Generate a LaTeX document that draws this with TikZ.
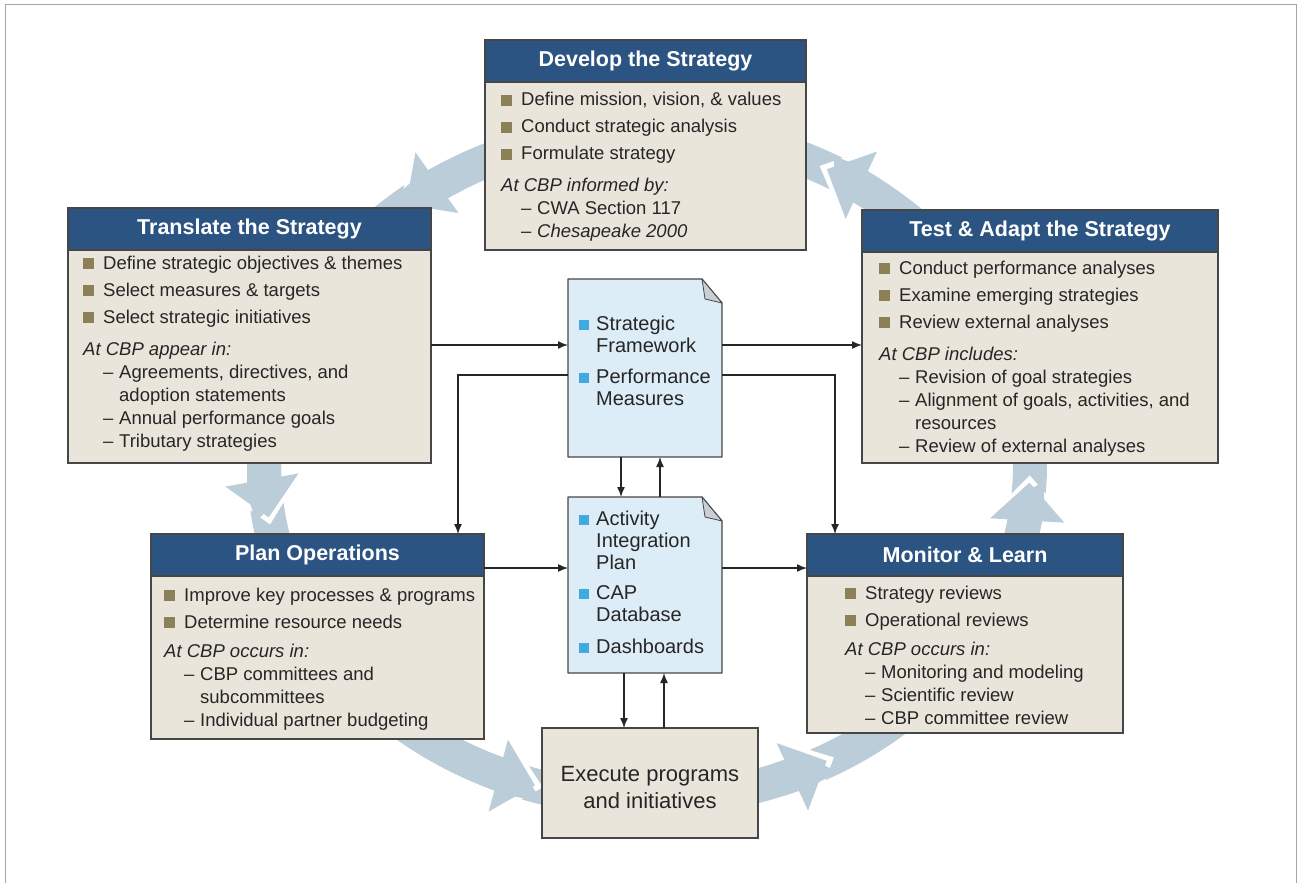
\documentclass[tikz,border=0pt]{standalone}
\usepackage{fontspec}
\setmainfont{Liberation Sans}
\usetikzlibrary{positioning,arrows.meta}

\definecolor{hdrblue}{RGB}{44,84,130}
\definecolor{panelbeige}{RGB}{233,229,219}
\definecolor{edgegray}{RGB}{70,70,70}
\definecolor{olivesq}{RGB}{140,128,88}
\definecolor{docblue}{RGB}{221,237,247}
\definecolor{foldgray}{RGB}{200,208,214}
\definecolor{docsq}{RGB}{64,170,222}
\definecolor{ringblue}{RGB}{186,205,217}
\definecolor{ink}{RGB}{38,38,38}

\newcommand\sqb{\textcolor{olivesq}{\rule{11pt}{11pt}}\hspace{9pt}}
\newcommand\dsh{\hspace{20pt}\makebox[16pt][l]{--}}
\newcommand\dcont{\hspace{36pt}}
\newcommand\cb{\textcolor{docsq}{\rule{10pt}{10pt}}\hspace{7pt}}
\newcommand\ringtip[2]{%
  \draw[white, line width=0.2pt, -{Triangle[length=44pt,width=82pt]}]
    (647,465) ++(#1:383 and 335) arc[start angle=#1, end angle=#2-1.2, x radius=383, y radius=335];
  \draw[ringblue, line width=34pt, -{Triangle[length=38pt,width=72pt]}]
    (647,465) ++(#1:383 and 335) arc[start angle=#1, end angle=#2, x radius=383, y radius=335];}
\newcommand\docpage[1]{%
  \filldraw[fill=docblue, draw=edgegray, line width=1.3pt, line join=round]
    (#1.north west) -- ([xshift=-20pt]#1.north east) -- ([yshift=-24pt]#1.north east)
    -- (#1.south east) -- (#1.south west) -- cycle;
  \filldraw[fill=foldgray, draw=edgegray, line width=0.8pt, line join=round]
    ([xshift=-20pt]#1.north east) -- ([xshift=-17pt,yshift=-20pt]#1.north east)
    -- ([yshift=-24pt]#1.north east) -- cycle;}

\tikzset{
  hdr/.style={rectangle, fill=hdrblue, draw=edgegray, line width=1.3pt, text=white,
    font=\bfseries\fontsize{21.5}{24}\selectfont, minimum height=42pt,
    inner sep=0pt, outer sep=0pt, anchor=north west},
  panel/.style={rectangle, fill=panelbeige, draw=edgegray, line width=1.3pt,
    inner sep=0pt, outer sep=0pt},
  list/.style={inner sep=0pt, anchor=base west, text=ink,
    font=\fontsize{18.5}{23}\selectfont},
  doclist/.style={inner sep=0pt, anchor=base west, text=ink,
    font=\fontsize{20}{22}\selectfont},
  docnode/.style={minimum width=154pt, inner sep=0pt, outer sep=0pt},
  link/.style={draw=ink, line width=1.4pt, -{Latex[length=10pt,width=8pt]}},
}

\begin{document}
\begin{tikzpicture}[x=1pt, y=-1pt]
\useasboundingbox (0,0) rectangle (1299,883);
\draw[gray!70, line width=1pt] (5,883) -- (5,5) -- (1296,5) -- (1296,883);

% cycle ring
\draw[ringblue, line width=34pt] (647,465) ellipse [x radius=383, y radius=335];
\ringtip{240}{231}
\ringtip{180}{171}
\ringtip{115}{107}
\ringtip{70}{62}
\ringtip{12}{3}
\ringtip{-54}{-62}

% develop
\node[hdr, minimum width=321pt] (develop) at (485,40) {Develop the Strategy};
\node[panel, minimum width=321pt, minimum height=168pt, below=0pt of develop] (developbody) {};
\node[list] (developlist) at (501,106) {\begin{tabular}[t]{@{}l@{}}
\sqb Define mission, vision, \& values\\[4pt]
\sqb Conduct strategic analysis\\[4pt]
\sqb Formulate strategy\\[9pt]
\textit{At CBP informed by:}\\
\dsh CWA Section 117\\
\dsh \textit{Chesapeake 2000}
\end{tabular}};

% translate
\node[hdr, minimum width=363pt] (translate) at (68,208) {Translate the Strategy};
\node[panel, minimum width=363pt, minimum height=213pt, below=0pt of translate] (translatebody) {};
\node[list] (translatelist) at (83,269) {\begin{tabular}[t]{@{}l@{}}
\sqb Define strategic objectives \& themes\\[4pt]
\sqb Select measures \& targets\\[4pt]
\sqb Select strategic initiatives\\[9pt]
\textit{At CBP appear in:}\\
\dsh Agreements, directives, and\\
\dcont adoption statements\\
\dsh Annual performance goals\\
\dsh Tributary strategies
\end{tabular}};

% test and adapt
\node[hdr, minimum width=356pt] (test) at (862,210) {Test \& Adapt the Strategy};
\node[panel, minimum width=356pt, minimum height=211pt, below=0pt of test] (testbody) {};
\node[list] (testlist) at (879,274) {\begin{tabular}[t]{@{}l@{}}
\sqb Conduct performance analyses\\[4pt]
\sqb Examine emerging strategies\\[4pt]
\sqb Review external analyses\\[9pt]
\textit{At CBP includes:}\\
\dsh Revision of goal strategies\\
\dsh Alignment of goals, activities, and\\
\dcont resources\\
\dsh Review of external analyses
\end{tabular}};

% plan
\node[hdr, minimum width=333pt] (plan) at (151,534) {Plan Operations};
\node[panel, minimum width=333pt, minimum height=163pt, below=0pt of plan] (planbody) {};
\node[list] (planlist) at (164,601) {\begin{tabular}[t]{@{}l@{}}
\sqb Improve key processes \& programs\\[4pt]
\sqb Determine resource needs\\[6pt]
\textit{At CBP occurs in:}\\
\dsh CBP committees and\\
\dcont subcommittees\\
\dsh Individual partner budgeting
\end{tabular}};

% monitor
\node[hdr, minimum width=316pt] (monitor) at (807,534) {Monitor \& Learn};
\node[panel, minimum width=316pt, minimum height=157pt, below=0pt of monitor] (monitorbody) {};
\node[list] (monitorlist) at (845,599) {\begin{tabular}[t]{@{}l@{}}
\sqb Strategy reviews\\[4pt]
\sqb Operational reviews\\[6pt]
\textit{At CBP occurs in:}\\
\dsh Monitoring and modeling\\
\dsh Scientific review\\
\dsh CBP committee review
\end{tabular}};

% execute
\node[panel, minimum width=216pt, minimum height=110pt, align=center, text=ink,
  font=\fontsize{22}{27}\selectfont] (execute) at (650,783) {\rule{0pt}{24pt}Execute programs\\and initiatives};

% documents
\node[docnode, minimum height=178pt] (framework) at (645,368) {};
\docpage{framework}
\node[doclist] (frameworklist) at (579,330) {\begin{tabular}[t]{@{}l@{}}
\cb Strategic\\
\hspace{17pt}Framework\\[9pt]
\cb Performance\\
\hspace{17pt}Measures
\end{tabular}};
\node[docnode, minimum height=176pt] (integration) at (645,585) {};
\docpage{integration}
\node[doclist] (integrationlist) at (579,525) {\begin{tabular}[t]{@{}l@{}}
\cb Activity\\
\hspace{17pt}Integration\\
\hspace{17pt}Plan\\[8pt]
\cb CAP\\
\hspace{17pt}Database\\[10pt]
\cb Dashboards
\end{tabular}};

% connectors
\coordinate (fwin) at ([yshift=23pt]framework.west);
\coordinate (fwout) at ([yshift=-7pt]framework.west);
\coordinate (aipin) at ([yshift=17pt]integration.west);
\draw[link] (translatebody.east |- fwin) -- (fwin);
\draw[link] (fwin -| framework.east) -- (fwin -| testbody.west);
\draw[link] (fwout) -| ([xshift=-26pt]plan.north east);
\draw[link] (fwout -| framework.east) -| ([xshift=28pt]monitor.north west);
\draw[link] ([xshift=-24pt]framework.south) -- ([xshift=-24pt]integration.north);
\draw[link] ([xshift=15pt]integration.north) -- ([xshift=15pt]framework.south);
\draw[link] (plan.east |- aipin) -- (aipin);
\draw[link] (aipin -| integration.east) -- (aipin -| monitor.west);
\draw[link] ([xshift=-21pt]integration.south) -- ([xshift=-21pt]integration.south |- execute.north);
\draw[link] ([xshift=19pt]integration.south |- execute.north) -- ([xshift=19pt]integration.south);
\end{tikzpicture}
\end{document}
